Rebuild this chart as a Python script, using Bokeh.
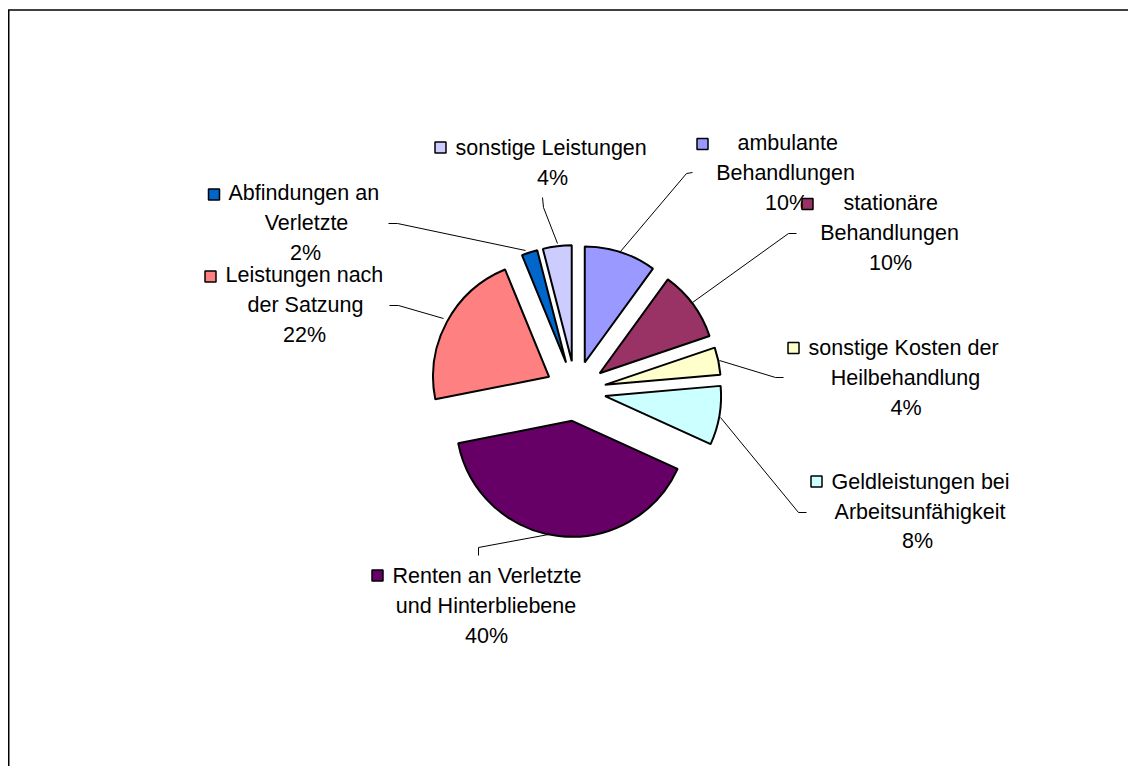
import math
from bokeh.plotting import figure
from bokeh.models import Range1d, ColumnDataSource
from bokeh.core.properties import value
from bokeh.embed import file_html
from bokeh.resources import INLINE

# ---------------- data ----------------
categories = [
    "ambulante\nBehandlungen",
    "stationäre\nBehandlungen",
    "sonstige Kosten der\nHeilbehandlung",
    "Geldleistungen bei\nArbeitsunfähigkeit",
    "Renten an Verletzte\nund Hinterbliebene",
    "Leistungen nach\nder Satzung",
    "Abfindungen an\nVerletzte",
    "sonstige Leistungen",
]
shares = [10.0, 9.8, 3.8, 8.2, 40.1, 21.9, 2.2, 4.0]
colors = ["#9999FF", "#993366", "#FFFFCC", "#CCFFFF",
          "#660066", "#FF8080", "#0066CC", "#CCCCFF"]

# ---------------- layout (page pixel coords) ----------------
W, H = 1128, 766
CX, CY = 575, 390.5      # pie centre
R = 116                  # radius
EXPLODE = 30             # explosion distance

label_layout = [
    dict(marker=(702, 143.5), x1=737, y1=142, xc=[785, 786], ys=[172, 202]),
    dict(marker=(807, 203.5), x1=843, y1=202, xc=[889, 890], ys=[232, 262]),
    dict(marker=(793, 347.5), x1=808, y1=347, xc=[905, 905.5], ys=[377, 407]),
    dict(marker=(816, 481), x1=831, y1=481, xc=[919.5, 917], ys=[511, 540]),
    dict(marker=(377, 575), x1=392, y1=575, xc=[485.5, 486], ys=[605, 635]),
    dict(marker=(210, 276), x1=225, y1=274, xc=[305, 304], ys=[304, 334]),
    dict(marker=(213.5, 194), x1=228, y1=192, xc=[306, 305], ys=[222, 252]),
    dict(marker=(440, 147), x1=455, y1=147, xc=[552], ys=[177]),
]
leaders = [
    [(692, 172), (686, 173), (620, 251)],
    [(796, 233), (788, 233), (692, 302)],
    [(783, 377), (775, 377), (719, 360)],
    [(806, 512), (798, 512), (720, 417)],
    [(478, 555), (478, 547), (548, 534)],
    [(389, 305), (398, 305), (443, 318)],
    [(388, 223), (397, 223), (525, 250)],
    [(542, 197), (543, 207), (557, 243)],
]

FONT = value("Liberation Sans")
FSIZE = value("21.5px")

p = figure(width=W, height=H, output_backend="svg", toolbar_location=None,
           x_axis_type=None, y_axis_type=None,
           x_range=Range1d(0, W), y_range=Range1d(-H, 0),
           min_border=0, outline_line_color=None,
           background_fill_color="white", border_fill_color="white")
p.grid.visible = False

# border of the chart area (top and left visible in the crop)
p.line([8.25, 8.25], [-H, -9.5], line_color="black", line_width=1.5)
p.line([7.5, W], [-9.5, -9.5], line_color="black", line_width=1.5)

# ---------------- pie wedges ----------------
total = sum(shares)
xs, ys, starts, ends = [], [], [], []
acc = 0.0
for v in shares:
    a0 = acc / total * 360.0
    acc += v
    a1 = acc / total * 360.0
    b = math.radians((a0 + a1) / 2)
    xs.append(CX + EXPLODE * math.sin(b))
    ys.append(-CY + EXPLODE * math.cos(b))
    starts.append(math.radians(90 - a1))
    ends.append(math.radians(90 - a0))

src = ColumnDataSource(dict(x=xs, y=ys, start=starts, end=ends, color=colors))
p.wedge(x="x", y="y", radius=R, start_angle="start", end_angle="end",
        fill_color="color", line_color="black", line_width=2, source=src)

# ---------------- leader lines ----------------
p.multi_line([[pt[0] for pt in L] for L in leaders],
             [[-pt[1] for pt in L] for L in leaders],
             line_color="black", line_width=1)

# ---------------- labels ----------------
pct = [f"{round(v / total * 100):d}%" for v in shares]
t1x, t1y, t1 = [], [], []
tcx, tcy, tc = [], [], []
mx, my, mc = [], [], []
for cat, lab, lay, col in zip(categories, pct, label_layout, colors):
    lines = cat.split("\n") + [lab]
    t1x.append(lay["x1"]); t1y.append(-lay["y1"]); t1.append(lines[0])
    for ln, xcv, yv in zip(lines[1:], lay["xc"], lay["ys"]):
        tcx.append(xcv); tcy.append(-yv); tc.append(ln)
    mx.append(lay["marker"][0]); my.append(-lay["marker"][1]); mc.append(col)

p.text(t1x, t1y, text=t1, text_font=FONT, text_font_size=FSIZE,
       text_color="black", text_align="left", text_baseline="middle")
p.text(tcx, tcy, text=tc, text_font=FONT, text_font_size=FSIZE,
       text_color="black", text_align="center", text_baseline="middle")
p.rect(mx, my, width=11, height=11, fill_color=mc, line_color="black", line_width=1.5)

open("out.html", "w").write(file_html(p, INLINE))
